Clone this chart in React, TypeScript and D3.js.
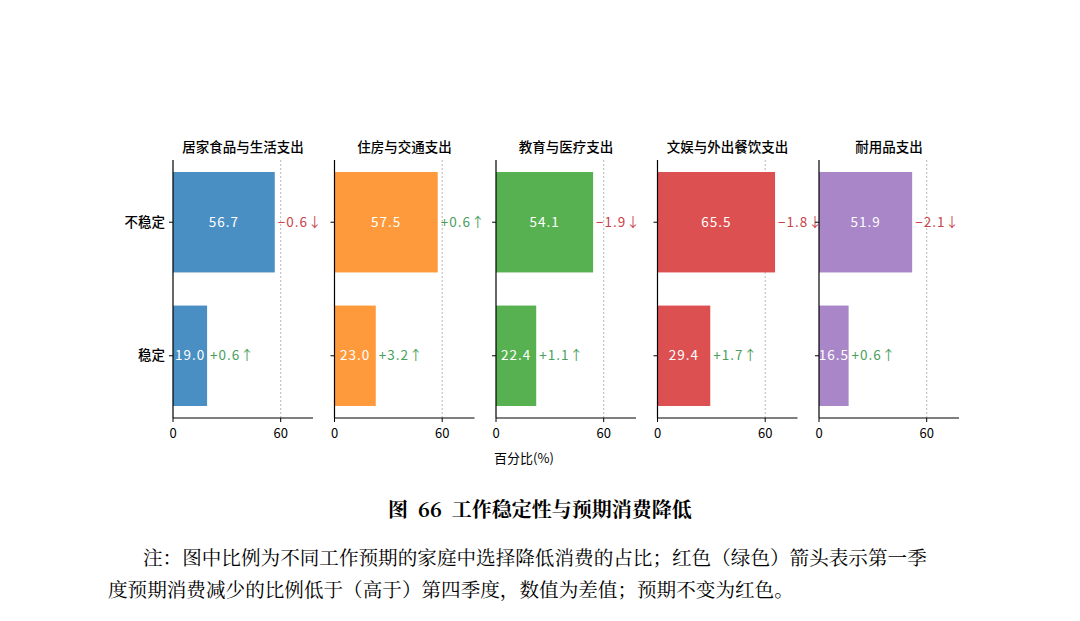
import React from "react";
import * as d3 from "d3";

const categories = ["居家食品与生活支出", "住房与交通支出", "教育与医疗支出", "文娱与外出餐饮支出", "耐用品支出"];
const groups = ["不稳定", "稳定"];
const unstableValues = [56.7, 57.5, 54.1, 65.5, 51.9];
const stableValues = [19.0, 23.0, 22.4, 29.4, 16.5];
const unstableDelta = [-0.6, 0.6, -1.9, -1.8, -2.1];
const stableDelta = [0.6, 3.2, 1.1, 1.7, 0.6];
const colors = ["#4a8fc3", "#ff9a3c", "#57b151", "#dc5052", "#a886c8"];
const xTicks = [0, 60];

export default function App() {
  const W = 1080, H = 621;
  const font = "'Noto Sans CJK SC', sans-serif";
  const serif = "'Noto Serif CJK SC','Noto Sans CJK SC', serif";
  const y = d3.scaleBand<string>().domain(groups).range([160, 418]).paddingInner(0.248).paddingOuter(0.09);
  return (
    <svg width={W} height={H} style={{ position: "absolute", left: 0, top: 0, background: "#fff" }}>
      {categories.map((c, i) => {
        const x0 = 173 + i * 161.5;
        const x = d3.scaleLinear().domain([0, 78]).range([x0, x0 + 140]);
        const vals = [unstableValues[i], stableValues[i]];
        const dels = [unstableDelta[i], stableDelta[i]];
        return (
          <g key={c}>
            <text x={(x0 + x0 + 140) / 2} y={152} textAnchor="middle" fontFamily={font} fontSize={13.5} fontWeight={500}>{c}</text>
            <line x1={x(60)} x2={x(60)} y1={160} y2={418} stroke="#999" strokeWidth={0.7} strokeDasharray="2,2" />
            {groups.map((g, j) => {
              const v = vals[j], d = dels[j];
              const up = d > 0;
              const cy = y(g)! + y.bandwidth() / 2;
              return (
                <g key={g}>
                  <rect x={x(0)} y={y(g)!} width={x(v) - x(0)} height={y.bandwidth()} fill={colors[i]} />
                  <text x={(x(0) + x(v)) / 2} y={cy} dy="0.35em" textAnchor="middle" fill="#fff" fontFamily={font} fontSize={13.5} letterSpacing={1}>{v.toFixed(1)}</text>
                  <text x={x(v) + 3} y={cy} dy="0.35em" fill={up ? "#4a9e5c" : "#c9424a"} fontFamily={font} fontSize={13.5} letterSpacing={1}>{(up ? "+" : "−") + Math.abs(d).toFixed(1) + (up ? "↑" : "↓")}</text>
                  <line x1={x0 - 4} x2={x0} y1={cy} y2={cy} stroke="#000" />
                  {i === 0 && <text x={x0 - 8} y={cy} dy="0.35em" textAnchor="end" fontFamily={font} fontSize={13.5} fontWeight={500}>{g}</text>}
                </g>
              );
            })}
            <line x1={x0} x2={x0} y1={160} y2={418} stroke="#000" strokeWidth={1.2} />
            <line x1={x0} x2={x0 + 140} y1={418} y2={418} stroke="#000" strokeWidth={1.2} />
            {xTicks.map(t => (
              <g key={t}>
                <line x1={x(t)} x2={x(t)} y1={418} y2={422} stroke="#000" />
                <text x={x(t)} y={438} textAnchor="middle" fontFamily={font} fontSize={13}>{t}</text>
              </g>
            ))}
          </g>
        );
      })}
      <text x={524} y={463} textAnchor="middle" fontFamily={font} fontSize={13}>百分比(%)</text>
      <text x={540} y={517} textAnchor="middle" fontFamily={serif} fontWeight="bold" fontSize={20} xmlSpace="preserve">图  66  工作稳定性与预期消费降低</text>
      <text x={143} y={565} fontFamily={serif} fontSize={19.6}>注：图中比例为不同工作预期的家庭中选择降低消费的占比；红色（绿色）箭头表示第一季</text>
      <text x={108} y={597} fontFamily={serif} fontSize={19.6}>度预期消费减少的比例低于（高于）第四季度，数值为差值；预期不变为红色。</text>
    </svg>
  );
}
